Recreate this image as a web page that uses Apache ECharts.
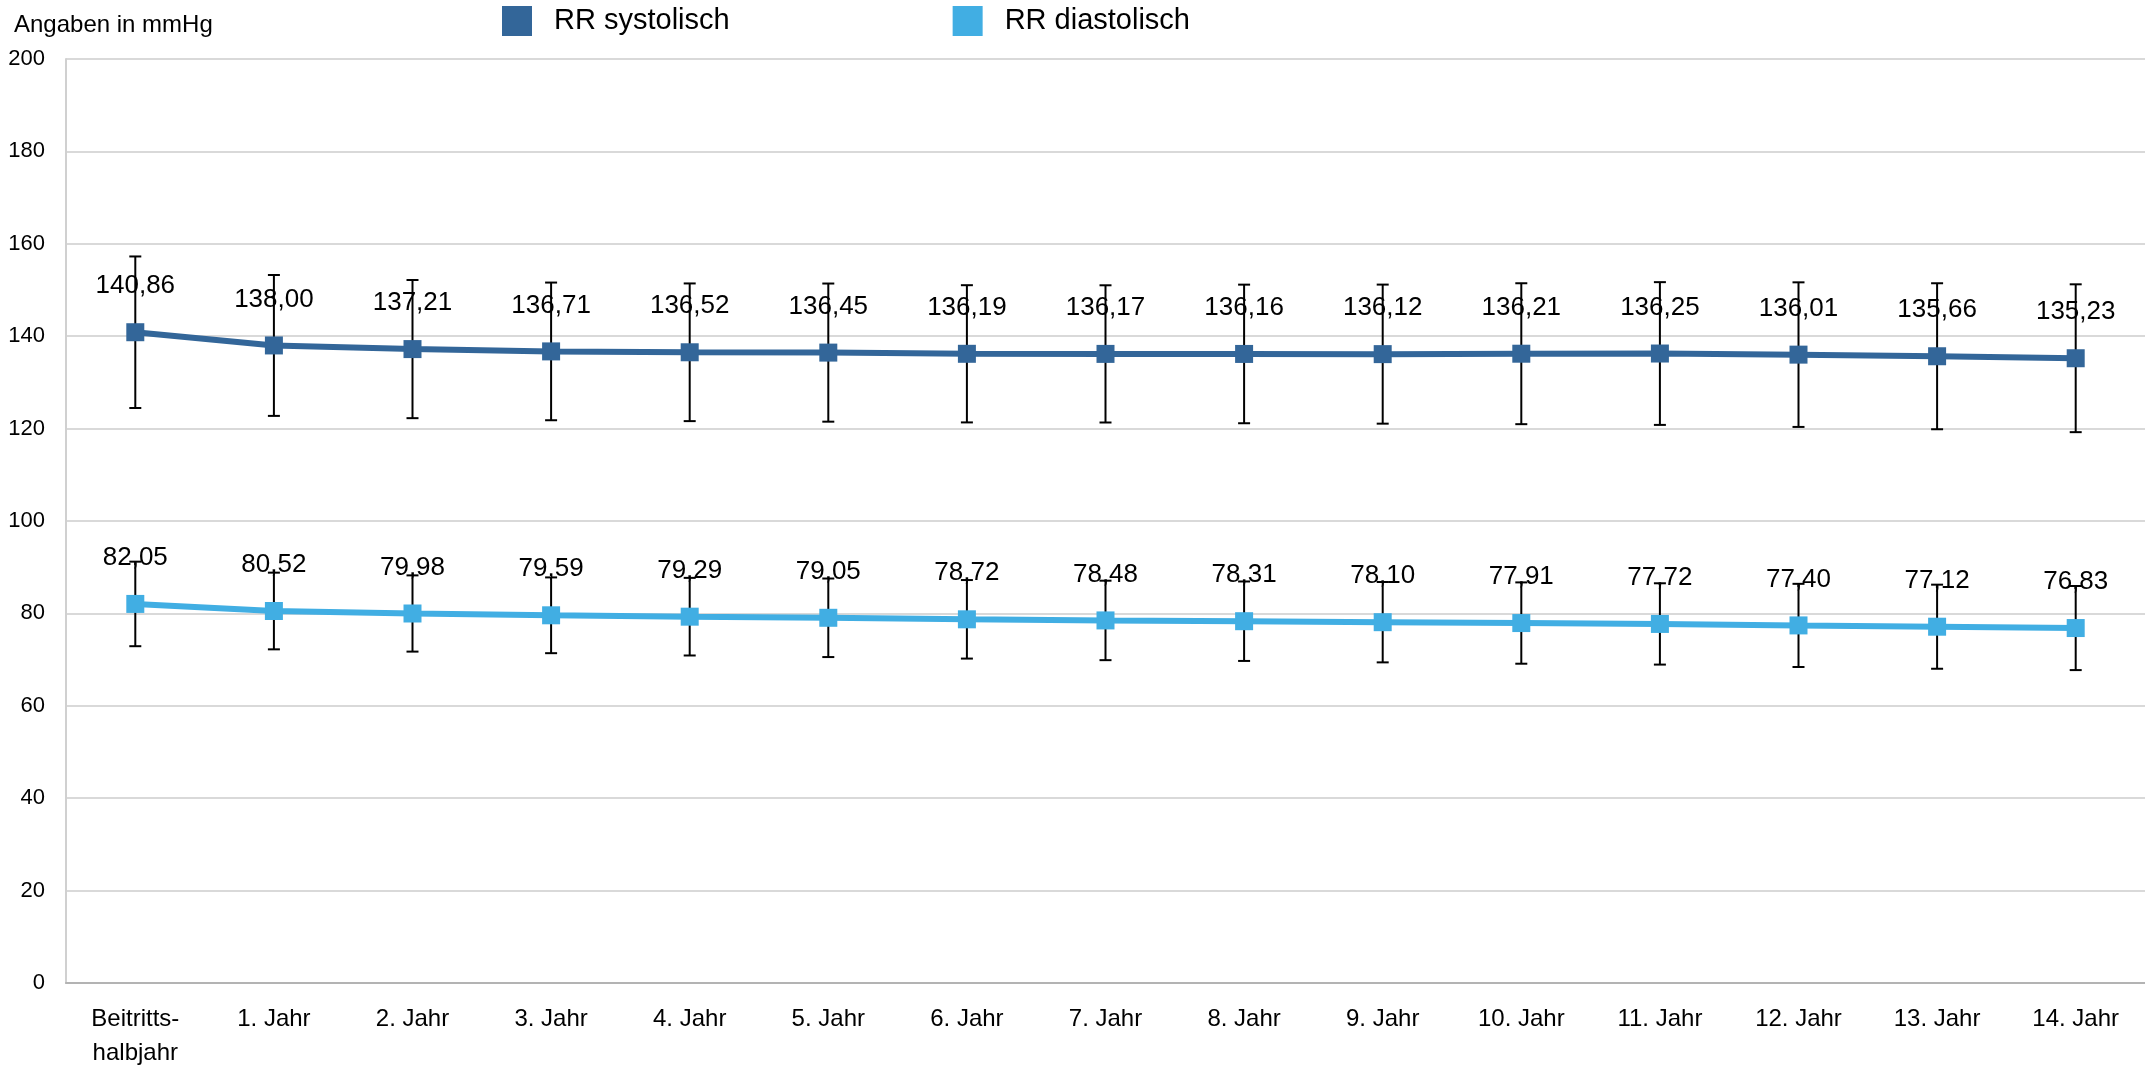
<!DOCTYPE html>
<html>
<head>
<meta charset="utf-8">
<script src="https://cdn.jsdelivr.net/npm/echarts@6/dist/echarts.min.js"></script>
<style>html,body{margin:0;padding:0;background:#fff}#c{width:2145px;height:1070px}</style>
</head>
<body>
<div id="c"></div>
<script>
const categories = ['Beitritts-\nhalbjahr','1. Jahr','2. Jahr','3. Jahr','4. Jahr','5. Jahr','6. Jahr','7. Jahr','8. Jahr','9. Jahr','10. Jahr','11. Jahr','12. Jahr','13. Jahr','14. Jahr'];
const systolic = [140.86,138.00,137.21,136.71,136.52,136.45,136.19,136.17,136.16,136.12,136.21,136.25,136.01,135.66,135.23];
const diastolic = [82.05,80.52,79.98,79.59,79.29,79.05,78.72,78.48,78.31,78.10,77.91,77.72,77.40,77.12,76.83];
const systolicSD = [16.4,15.25,14.95,14.9,14.9,14.95,14.85,14.85,15.0,15.05,15.25,15.45,15.65,15.8,16.0];
const diastolicSD = [9.15,8.3,8.25,8.2,8.4,8.5,8.5,8.6,8.6,8.7,8.8,8.8,9.0,9.1,9.1];
const yTicks = {min:0, max:200, interval:20};
const seriesNames = ['RR systolisch','RR diastolisch'];

const FONT = 'Liberation Sans';
const colSys = '#336699', colDia = '#41AEE3';
const fmt = v => v.toFixed(2).replace('.', ',');

function errData(vals, sds){ return vals.map((v,i)=>[i, v - sds[i], v + sds[i]]); }
function renderErr(params, api){
  const x = api.value(0), lo = api.value(1), hi = api.value(2);
  const pLo = api.coord([x, lo]), pHi = api.coord([x, hi]);
  const cap = 6;
  const st = {stroke:'#000', lineWidth:2};
  return {type:'group', children:[
    {type:'line', shape:{x1:pLo[0],y1:pLo[1],x2:pHi[0],y2:pHi[1]}, style:st},
    {type:'line', shape:{x1:pLo[0]-cap,y1:pLo[1],x2:pLo[0]+cap,y2:pLo[1]}, style:st},
    {type:'line', shape:{x1:pHi[0]-cap,y1:pHi[1],x2:pHi[0]+cap,y2:pHi[1]}, style:st}
  ]};
}

const chart = echarts.init(document.getElementById('c'), null, {renderer:'canvas'});
chart.setOption({
  animation:false,
  backgroundColor:'#fff',
  textStyle:{fontFamily:FONT},
  title:{text:'Angaben in mmHg', left:14, top:13, padding:0, textStyle:{fontFamily:FONT, fontSize:24, fontWeight:'normal', color:'#000'}},
  legend:{
    data:seriesNames, left:502, top:6, padding:0, itemWidth:30, itemHeight:30, itemGap:223,
    icon:'rect', textStyle:{fontFamily:FONT, fontSize:29, color:'#000', padding:[3,0,0,17]}
  },
  grid:{left:66, top:59, width:2084, height:929, containLabel:false},
  xAxis:{
    type:'category', data:categories, boundaryGap:true,
    axisLine:{lineStyle:{color:'#b3b3b3', width:2}},
    axisTick:{alignWithLabel:true, length:15, lineStyle:{color:'#b3b3b3', width:2}},
    axisLabel:{fontFamily:FONT, fontSize:24, color:'#000', margin:19, lineHeight:34, interval:0}
  },
  yAxis:{
    type:'value', min:yTicks.min, max:yTicks.max, interval:yTicks.interval,
    axisLine:{show:true, lineStyle:{color:'#d0d0d0', width:2}},
    axisTick:{show:false},
    axisLabel:{fontFamily:FONT, fontSize:22, color:'#000', margin:21},
    splitLine:{lineStyle:{color:'#d9d9d9', width:2}}
  },
  series:[
    {type:'custom', name:'errS', renderItem:renderErr, data:errData(systolic, systolicSD), z:2, silent:true},
    {type:'custom', name:'errD', renderItem:renderErr, data:errData(diastolic, diastolicSD), z:2, silent:true},
    {name:seriesNames[0], type:'line', data:systolic, z:3, color:colSys,
     symbol:'rect', symbolSize:18, lineStyle:{width:6, color:colSys}, itemStyle:{color:colSys},
     label:{show:true, position:'top', distance:24, fontFamily:FONT, fontSize:26, color:'#000', formatter:p=>fmt(p.value)}},
    {name:seriesNames[1], type:'line', data:diastolic, z:3, color:colDia,
     symbol:'rect', symbolSize:18, lineStyle:{width:6, color:colDia}, itemStyle:{color:colDia},
     label:{show:true, position:'top', distance:24, fontFamily:FONT, fontSize:26, color:'#000', formatter:p=>fmt(p.value)}}
  ]
});
</script>
</body>
</html>
